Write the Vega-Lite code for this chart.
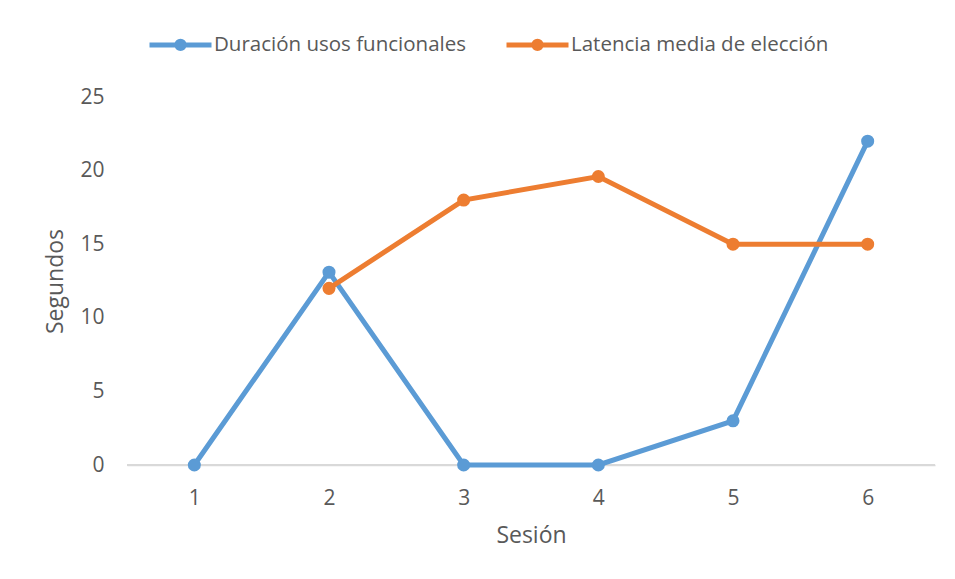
{
  "$schema": "https://vega.github.io/schema/vega-lite/v6.json",
  "width": 808,
  "height": 368,
  "autosize": {"type": "none"},
  "padding": {"left": 127, "top": 97, "right": 20, "bottom": 114},
  "background": "white",
  "config": {
    "view": {"stroke": null},
    "font": "Open Sans"
  },
  "data": {
    "values": [
      {"sesion": "1", "serie": "Duración usos funcionales", "segundos": 0},
      {"sesion": "2", "serie": "Duración usos funcionales", "segundos": 13.1},
      {"sesion": "3", "serie": "Duración usos funcionales", "segundos": 0},
      {"sesion": "4", "serie": "Duración usos funcionales", "segundos": 0},
      {"sesion": "5", "serie": "Duración usos funcionales", "segundos": 3},
      {"sesion": "6", "serie": "Duración usos funcionales", "segundos": 22},
      {"sesion": "2", "serie": "Latencia media de elección", "segundos": 12},
      {"sesion": "3", "serie": "Latencia media de elección", "segundos": 18},
      {"sesion": "4", "serie": "Latencia media de elección", "segundos": 19.6},
      {"sesion": "5", "serie": "Latencia media de elección", "segundos": 15},
      {"sesion": "6", "serie": "Latencia media de elección", "segundos": 15}
    ]
  },
  "encoding": {
    "x": {
      "field": "sesion",
      "type": "ordinal",
      "scale": {"type": "point", "padding": 0.5},
      "axis": {
        "title": "Sesión",
        "labelAngle": 0,
        "labelPadding": 22,
        "labelFontSize": 21,
        "labelColor": "#595959",
        "titleFontSize": 23,
        "titleFontWeight": "normal",
        "titleColor": "#595959",
        "titlePadding": 16,
        "ticks": false,
        "grid": false,
        "domainColor": "#D9D9D9",
        "domainWidth": 1.5
      }
    },
    "y": {
      "field": "segundos",
      "type": "quantitative",
      "scale": {"domain": [0, 25]},
      "axis": {
        "title": "Segundos",
        "values": [0, 5, 10, 15, 20, 25],
        "domain": false,
        "ticks": false,
        "grid": false,
        "labelFontSize": 21,
        "labelColor": "#595959",
        "titleFontSize": 23,
        "titleFontWeight": "normal",
        "titleColor": "#595959",
        "labelPadding": 23,
        "titlePadding": 12
      }
    },
    "color": {
      "field": "serie",
      "type": "nominal",
      "scale": {
        "domain": ["Duración usos funcionales", "Latencia media de elección"],
        "range": ["#5B9BD5", "#ED7D31"]
      }
    }
  },
  "layer": [
    {
      "mark": {"type": "rule", "color": "#D9D9D9", "strokeWidth": 1.5},
      "encoding": {
        "x": {"value": 0},
        "x2": {"value": 808},
        "y": {"datum": 0},
        "color": null
      }
    },
    {
      "mark": {"type": "line", "strokeWidth": 5},
      "encoding": {
        "color": {
          "field": "serie",
          "type": "nominal",
          "legend": {
            "title": null,
            "orient": "none",
            "direction": "horizontal",
            "legendX": 20,
            "legendY": -86,
            "symbolType": "M-1,0H1M0.12,0A0.12,0.12 0 1,1 -0.12,0A0.12,0.12 0 1,1 0.12,0M0.04,0A0.04,0.04 0 1,1 -0.04,0A0.04,0.04 0 1,1 0.04,0",
            "symbolSize": 3844,
            "symbolStrokeWidth": 5,
            "symbolOffset": 0,
            "labelFontSize": 20.5,
            "labelColor": "#595959",
            "labelOffset": 0,
            "labelLimit": 0,
            "columnPadding": 30,
            "symbolLimit": 0
          }
        }
      }
    },
    {
      "mark": {"type": "point", "filled": true, "size": 170, "opacity": 1},
      "encoding": {
        "order": {"field": "serie", "sort": "ascending"},
        "color": {"field": "serie", "type": "nominal", "legend": null}
      }
    }
  ]
}
